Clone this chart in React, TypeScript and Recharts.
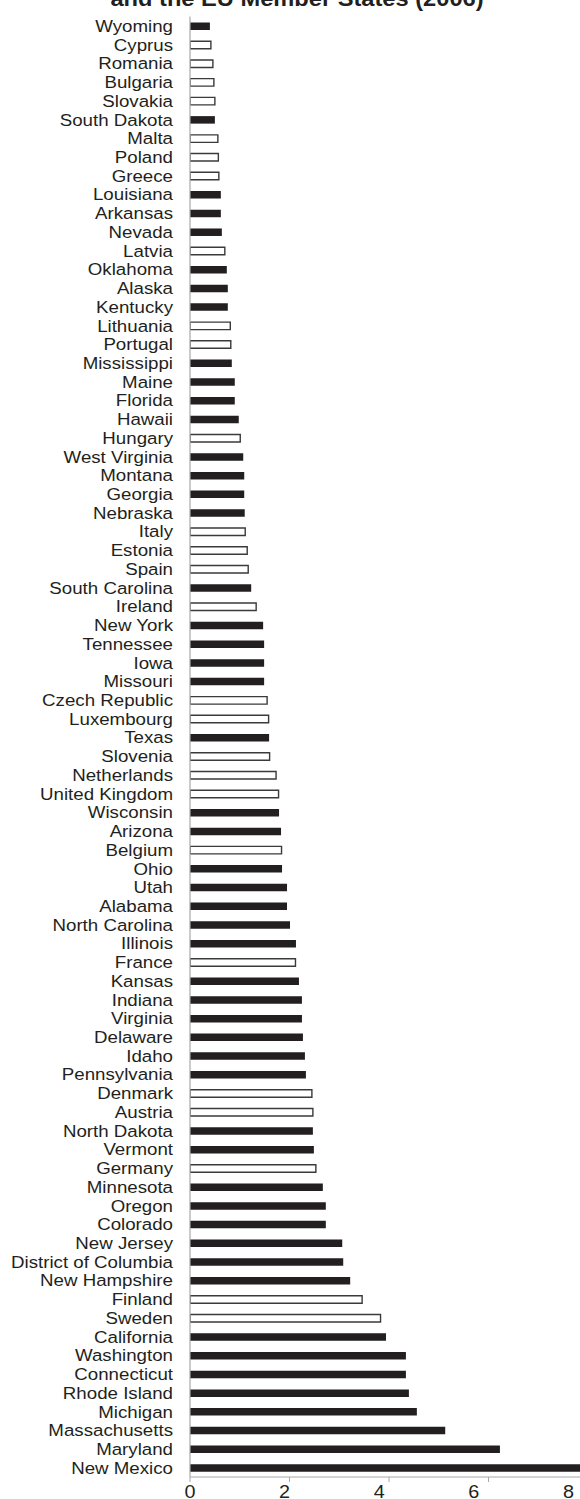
import { BarChart, Bar, Cell, XAxis, YAxis } from "recharts";

const places = [
  "Wyoming", "Cyprus", "Romania", "Bulgaria", "Slovakia", "South Dakota", "Malta", "Poland",
  "Greece", "Louisiana", "Arkansas", "Nevada", "Latvia", "Oklahoma", "Alaska", "Kentucky",
  "Lithuania", "Portugal", "Mississippi", "Maine", "Florida", "Hawaii", "Hungary", "West Virginia",
  "Montana", "Georgia", "Nebraska", "Italy", "Estonia", "Spain", "South Carolina", "Ireland",
  "New York", "Tennessee", "Iowa", "Missouri", "Czech Republic", "Luxembourg", "Texas", "Slovenia",
  "Netherlands", "United Kingdom", "Wisconsin", "Arizona", "Belgium", "Ohio", "Utah", "Alabama",
  "North Carolina", "Illinois", "France", "Kansas", "Indiana", "Virginia", "Delaware", "Idaho",
  "Pennsylvania", "Denmark", "Austria", "North Dakota", "Vermont", "Germany", "Minnesota", "Oregon",
  "Colorado", "New Jersey", "District of Columbia", "New Hampshire", "Finland", "Sweden",
  "California", "Washington", "Connecticut", "Rhode Island", "Michigan", "Massachusetts",
  "Maryland", "New Mexico",
];

const values = [
  0.4, 0.42, 0.46, 0.48, 0.5, 0.5, 0.56, 0.57,
  0.58, 0.62, 0.62, 0.64, 0.7, 0.74, 0.76, 0.76,
  0.81, 0.82, 0.84, 0.9, 0.9, 0.98, 1.01, 1.07,
  1.09, 1.09, 1.1, 1.11, 1.15, 1.17, 1.23, 1.33,
  1.47, 1.49, 1.49, 1.49, 1.55, 1.58, 1.59, 1.6,
  1.73, 1.78, 1.79, 1.83, 1.84, 1.85, 1.95, 1.95,
  2.01, 2.13, 2.12, 2.19, 2.25, 2.25, 2.27, 2.31,
  2.33, 2.45, 2.47, 2.47, 2.49, 2.53, 2.67, 2.73,
  2.73, 3.06, 3.08, 3.22, 3.46, 3.83,
  3.94, 4.34, 4.34, 4.4, 4.56, 5.13,
  6.23, 8.3,
];

// EU member states are drawn as outlined bars, US states as solid bars
const euMembers = [
  "Cyprus", "Romania", "Bulgaria", "Slovakia", "Malta", "Poland", "Greece", "Latvia",
  "Lithuania", "Portugal", "Hungary", "Italy", "Estonia", "Spain", "Ireland", "Czech Republic",
  "Luxembourg", "Slovenia", "Netherlands", "United Kingdom", "Belgium", "France", "Denmark",
  "Austria", "Germany", "Finland", "Sweden",
];

const xTicks = [0, 2, 4, 6, 8];

const FONT = '"Liberation Sans", Arial, Helvetica, sans-serif';
const INK = "#231f20";
const AXIS = "#a8a8a8";

const data = places.map((name, i) => ({
  name,
  value: values[i],
  eu: euMembers.includes(name),
}));

function NameTick({ x, y, payload }: any) {
  return (
    <g transform={`translate(${x},${y}) scale(1.1,1)`}>
      <text x={0} y={0} dy="0.355em" textAnchor="end" fontSize={17} fill={INK} fontFamily={FONT}>
        {payload.value}
      </text>
    </g>
  );
}

function ValueTick({ x, y, payload }: any) {
  // labels in the source sit a little left of their tick marks
  const shift = -payload.value * 2.45;
  return (
    <g transform={`translate(${x + shift},${y}) scale(1.1,1)`}>
      <text x={0} y={0} dy="0.71em" textAnchor="middle" fontSize={18} fill={INK} fontFamily={FONT}>
        {payload.value}
      </text>
    </g>
  );
}

export default function App() {
  return (
    <div
      style={{
        position: "absolute",
        left: 0,
        top: 0,
        width: 580,
        height: 1499,
        overflow: "hidden",
        background: "#fff",
      }}
    >
      <svg width={580} height={20} style={{ position: "absolute", left: 0, top: 0 }}>
        <g transform="translate(297,5.6) scale(1.1,1)">
          <text x={0} y={0} textAnchor="middle" fontSize={21.5} fontWeight="bold" fill={INK} fontFamily={FONT}>
            and the EU Member States (2006)
          </text>
        </g>
      </svg>
      <div style={{ position: "absolute", left: 0, top: 0 }}>
        <BarChart
          width={600}
          height={1507}
          data={data}
          layout="vertical"
          margin={{ top: 16.5, right: 12, bottom: 0, left: 0 }}
        >
          <XAxis
            type="number"
            domain={[0, 8]}
            ticks={xTicks}
            allowDataOverflow
            height={30}
            axisLine={{ stroke: AXIS, strokeWidth: 1 }}
            tickLine={{ stroke: AXIS }}
            tickSize={5}
            tickMargin={3}
            tick={<ValueTick />}
          />
          <YAxis
            type="category"
            dataKey="name"
            width={190}
            interval={0}
            axisLine={{ stroke: AXIS, strokeWidth: 1.2 }}
            tickLine={false}
            tickSize={0}
            tickMargin={17}
            tick={<NameTick />}
          />
          <Bar dataKey="value" barSize={7.5} isAnimationActive={false}>
            {data.map((d, i) => (
              <Cell
                key={i}
                fill={d.eu ? "#ffffff" : INK}
                stroke={d.eu ? "#3a3a3a" : "none"}
                strokeWidth={d.eu ? 1.4 : 0}
              />
            ))}
          </Bar>
        </BarChart>
      </div>
    </div>
  );
}
